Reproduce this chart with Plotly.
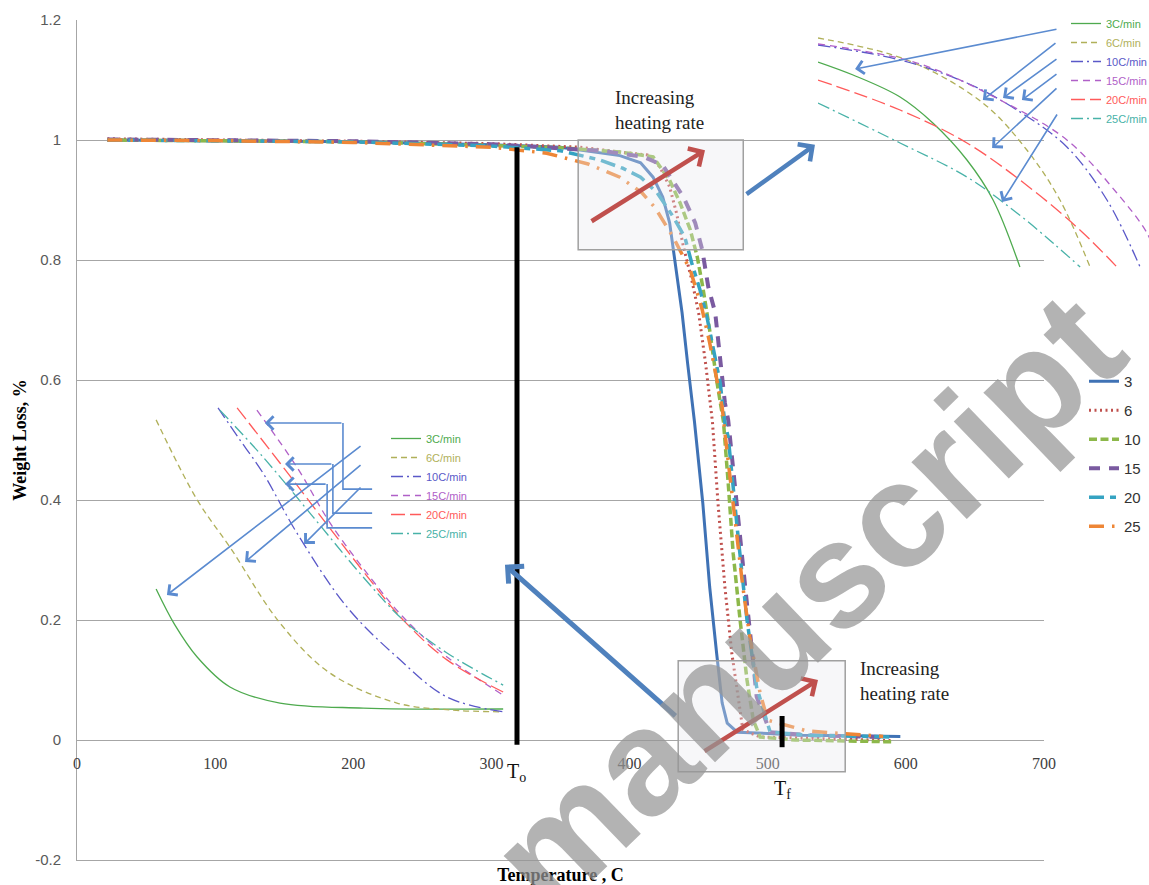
import plotly.graph_objects as go

# ---------------- main TGA curves (temperature C, weight fraction) ----------------
T_3 = [22, 100, 200, 300, 350, 393, 408, 417, 424, 429, 433, 438, 442, 447, 453, 458, 463, 467, 470.7, 478, 500, 523.5, 560, 596]
W_3 = [1.0, 0.999, 0.997, 0.992, 0.988, 0.974, 0.962, 0.938, 0.905, 0.862, 0.795, 0.712, 0.628, 0.53, 0.395, 0.255, 0.145, 0.062, 0.028, 0.013, 0.011, 0.008, 0.007, 0.006]

T_6 = [22, 100, 200, 300, 364, 393, 413, 422, 429, 434, 439, 445, 450, 455, 460, 464, 469, 474, 479, 482, 494.5, 520, 560, 590]
W_6 = [1.002, 1.0, 0.998, 0.994, 0.988, 0.98, 0.975, 0.955, 0.922, 0.878, 0.822, 0.767, 0.712, 0.628, 0.53, 0.395, 0.255, 0.145, 0.062, 0.017, 0.005, 0.003, 0.001, -0.001]

T_10 = [22, 100, 200, 300, 350, 393, 417, 429, 436.6, 444, 449, 453, 458, 463, 468, 471.6, 475, 480, 485, 489.6, 494.5, 520, 560, 590]
W_10 = [1.0, 0.999, 0.997, 0.991, 0.987, 0.98, 0.972, 0.933, 0.895, 0.85, 0.805, 0.755, 0.683, 0.6, 0.53, 0.422, 0.311, 0.2, 0.1, 0.033, 0.005, 0.0, -0.002, -0.003]

T_15 = [22, 100, 200, 300, 380, 410, 424, 439, 447.5, 452.6, 457, 462, 465.6, 469, 471.4, 478, 483.7, 488.8, 492, 501.8, 530, 585]
W_15 = [1.001, 1.0, 0.998, 0.993, 0.982, 0.972, 0.958, 0.905, 0.862, 0.817, 0.755, 0.712, 0.628, 0.562, 0.533, 0.378, 0.255, 0.145, 0.072, 0.013, 0.008, 0.005]

T_20 = [22, 100, 200, 300, 350, 378, 395, 408, 420, 431.6, 440, 445, 451, 456, 460.5, 465.6, 469, 471.4, 478.6, 485, 492, 499.6, 501.8, 530, 590]
W_20 = [1.0, 0.999, 0.997, 0.99, 0.982, 0.967, 0.953, 0.938, 0.912, 0.872, 0.838, 0.795, 0.75, 0.705, 0.655, 0.595, 0.528, 0.505, 0.338, 0.2, 0.088, 0.033, 0.013, 0.008, 0.005]

T_25 = [22, 100, 200, 300, 340, 370, 393, 409, 418.5, 424, 431.6, 439, 444, 449, 452.6, 458, 463, 467, 470.7, 476.5, 482, 487, 494.5, 500, 528.6, 583.6]
W_25 = [1.0, 0.999, 0.996, 0.988, 0.978, 0.96, 0.938, 0.912, 0.887, 0.867, 0.838, 0.805, 0.783, 0.745, 0.717, 0.662, 0.605, 0.555, 0.478, 0.367, 0.255, 0.172, 0.078, 0.033, 0.015, 0.006]

RATE_LABELS = ["3", "6", "10", "15", "20", "25"]

# axis ticks
Y_TICKS = [-0.2, 0, 0.2, 0.4, 0.6, 0.8, 1.0, 1.2]
Y_TICKTEXT = ["-0.2", "0", "0.2", "0.4", "0.6", "0.8", "1", "1.2"]
X_TICKS = [0, 100, 200, 300, 400, 500, 600, 700]

# ---------------- inset 1 (onset region, magnified; inset units 0-100) ----------------
I1_X_3 = [0, 10.6, 24.8, 34.7, 45, 52.9, 61]
I1_Y_3 = [83.2, 78, 69.2, 58.8, 44, 28, 1.2]
I1_X_6 = [0, 26.9, 49.8, 63.1, 73.1, 82.2]
I1_Y_6 = [92.8, 84, 66.8, 48, 28, 1.2]
I1_X_10 = [0, 24.8, 45, 60.1, 75.2, 87.3, 97.3]
I1_Y_10 = [90, 84, 74.8, 64, 49.2, 28, 1.2]
I1_X_15 = [0, 29.9, 55, 75.2, 90.3, 99.4, 102]
I1_Y_15 = [90.4, 82.8, 68, 52, 30.8, 14.8, 6]
I1_X_20 = [0, 24.8, 45, 64.9, 80.1, 90.3]
I1_Y_20 = [76, 64, 50.8, 32, 14.8, 1.2]
I1_X_25 = [0, 24.8, 45, 60.1, 71, 79.2]
I1_Y_25 = [66.8, 50.8, 37.2, 22.8, 10.8, 1.2]

# ---------------- inset 2 (end-of-decomposition region, magnified; inset units 0-100) ----------------
I2_X_3 = [1.7, 6.9, 13.1, 22.2, 36.1, 59.2, 98.1]
I2_Y_3 = [40, 28.6, 18.4, 8.9, 3.8, 2.2, 1.9]
I2_X_6 = [1.7, 13.1, 22.2, 36.1, 50, 68.6, 83.3, 98.1]
I2_Y_6 = [93.7, 68.3, 53.3, 29.2, 13.3, 3.8, 1.6, 1.0]
I2_X_10 = [18.9, 25, 31.4, 40.8, 54.7, 68.6, 82.5, 98.1]
I2_Y_10 = [97.5, 87.3, 76.8, 57.8, 34.3, 18.4, 5.7, 1.0]
I2_X_15 = [29.7, 40.8, 50, 61.1, 70.3, 82.5, 98.1]
I2_Y_15 = [96.8, 78.7, 61, 43.8, 31.1, 18.4, 6.3]
I2_X_20 = [24.2, 36.1, 48.5, 60, 70.3, 82.5, 98.1]
I2_Y_20 = [97.5, 80, 61.5, 44.5, 30.2, 17.5, 7.3]
I2_X_25 = [19.4, 31.4, 45.3, 59.2, 70.3, 82.5, 98.1]
I2_Y_25 = [96.8, 81.9, 62.9, 43.8, 30.2, 19.7, 9.5]

INSET_LABELS = ["3C/min", "6C/min", "10C/min", "15C/min", "20C/min", "25C/min"]

# ---------------- styling ----------------
MAIN_COLORS = ["#3F72B5", "#C0504D", "#8DB84A", "#7A5AA0", "#35A3C2", "#EE8636"]
MAIN_DASH = ["solid", "2px,3.5px", "8px,3.5px", "11px,9px", "15px,6px,6px,6px", "15px,8px,2.5px,8px"]
MAIN_WIDTH = [3, 3, 3.5, 4, 3.5, 3.5]
INS_COLORS = ["#4EAA4E", "#B0B05A", "#5A58C8", "#B060C8", "#FF5A5A", "#48B2A8"]
INS_DASH = ["solid", "6px,4px", "12px,4px,2px,4px", "7px,5px", "14px,5px", "12px,4px,2px,4px"]

W = 1149
H = 885
ML, MR, MT, MB = 77, 0, 20, 25
PW = W - ML - MR
PH = H - MT - MB


def px_x(p):
    return (p - ML) / PW


def px_y(p):
    return (H - MB - p) / PH


main_right = px_x(1044)

fig = go.Figure()

mainT = [T_3, T_6, T_10, T_15, T_20, T_25]
mainW = [W_3, W_6, W_10, W_15, W_20, W_25]
for i, lab in enumerate(RATE_LABELS):
    fig.add_trace(go.Scatter(
        x=mainT[i], y=mainW[i], mode="lines", name=lab,
        line=dict(color=MAIN_COLORS[i], dash=MAIN_DASH[i], width=MAIN_WIDTH[i]),
        xaxis="x", yaxis="y", legend="legend", legendgroup="m" + lab,
    ))

i1x = [I1_X_3, I1_X_6, I1_X_10, I1_X_15, I1_X_20, I1_X_25]
i1y = [I1_Y_3, I1_Y_6, I1_Y_10, I1_Y_15, I1_Y_20, I1_Y_25]
i2x = [I2_X_3, I2_X_6, I2_X_10, I2_X_15, I2_X_20, I2_X_25]
i2y = [I2_Y_3, I2_Y_6, I2_Y_10, I2_Y_15, I2_Y_20, I2_Y_25]
for i, lab in enumerate(INSET_LABELS):
    nm = "<span style='color:%s'>%s</span>" % (INS_COLORS[i], lab)
    fig.add_trace(go.Scatter(
        x=i1x[i], y=i1y[i], mode="lines", name=nm, line_shape="spline",
        line=dict(color=INS_COLORS[i], dash=INS_DASH[i], width=1.3),
        xaxis="x2", yaxis="y2", legend="legend2",
    ))
    fig.add_trace(go.Scatter(
        x=i2x[i], y=i2y[i], mode="lines", name=nm, line_shape="spline",
        line=dict(color=INS_COLORS[i], dash=INS_DASH[i], width=1.3),
        xaxis="x3", yaxis="y3", legend="legend3",
    ))

# empty trace to carry the tick-label axis that crosses at y = 0
fig.add_trace(go.Scatter(x=[], y=[], xaxis="x4", yaxis="y", showlegend=False, hoverinfo="skip"))

GRID = "#A6A6A6"
SERIF = "Liberation Serif"
SANS = "Liberation Sans"

annotations = []
shapes = []

# boxes
shapes.append(dict(type="rect", xref="x", yref="y", x0=362.8, x1=482.3, y0=0.817, y1=1.0,
                   line=dict(color="#A0A0A0", width=1.5), fillcolor="rgba(232,232,238,0.35)", layer="above"))
shapes.append(dict(type="rect", xref="x", yref="y", x0=435.2, x1=556.1, y0=-0.053, y1=0.132,
                   line=dict(color="#A0A0A0", width=1.5), fillcolor="rgba(232,232,238,0.35)", layer="above"))
# onset / end markers
shapes.append(dict(type="line", xref="x", yref="y", x0=318.5, x1=318.5, y0=0.988, y1=-0.008,
                   line=dict(color="black", width=5)))
shapes.append(dict(type="line", xref="x", yref="y", x0=510.4, x1=510.4, y0=0.04, y1=-0.012,
                   line=dict(color="black", width=5)))


def arrow(x0, y0, x1, y1, color, width, ref="", head=4, size=1.0):
    annotations.append(dict(
        x=x1, y=y1, ax=x0, ay=y0, xref="x" + ref, yref="y" + ref, axref="x" + ref, ayref="y" + ref,
        text="", showarrow=True, arrowhead=head, arrowsize=size, arrowwidth=width, arrowcolor=color,
        standoff=0, startstandoff=0,
    ))


# main arrows
arrow(371.4, 0.863, 454.6, 0.983, "#C0504D", 4.5, size=0.9)
arrow(483.6, 0.908, 534.2, 0.992, "#4F81BD", 4.5, size=0.9)
arrow(453.2, -0.02, 536.4, 0.10, "#C0504D", 4.5, size=0.9)
arrow(434.3, 0.038, 309.8, 0.292, "#4F81BD", 5, size=0.9)

# inset 1 arrows
INS_ARROW = "#5B8BD0"
for (sx, sy, ex, ey) in [(72.5, 96.4, 11.2, 80.4), (72.2, 91.2, 49.8, 68.0), (72.5, 84.8, 55.9, 68.8),
                         (72.5, 78.8, 61.6, 68.0), (72.5, 73.2, 52.6, 48.8), (72.5, 62.8, 55.6, 27.2)]:
    arrow(sx, sy, ex, ey, INS_ARROW, 1.6, ref="2", head=4, size=1.6)

# inset 2 arrows
for (sx, sy, ex, ey) in [(58.9, 85.7, 4.7, 38.1), (58.9, 79.7, 26.4, 48.6), (58.9, 72.7, 42.8, 54.3)]:
    arrow(sx, sy, ex, ey, INS_ARROW, 1.6, ref="3", head=4, size=1.6)
for (p, ex) in [([(61.7, 71.7), (53.6, 71.7), (53.6, 92.7)], 31.9),
                ([(61.7, 64.1), (50.8, 64.1), (50.8, 79.7)], 37.5),
                ([(61.7, 59.4), (49.2, 59.4), (49.2, 73.3)], 37.5)]:
    path = "M %s,%s L %s,%s L %s,%s" % (p[0][0], p[0][1], p[1][0], p[1][1], p[2][0], p[2][1])
    shapes.append(dict(type="path", xref="x3", yref="y3", path=path, line=dict(color=INS_ARROW, width=1.6)))
    arrow(p[2][0], p[2][1], ex, p[2][1], INS_ARROW, 1.6, ref="3", head=4, size=1.6)

# texts
annotations.append(dict(x=px_x(613), y=px_y(110), xref="paper", yref="paper", xanchor="left", yanchor="middle",
                        text="Increasing<br>heating rate", showarrow=False, align="left",
                        font=dict(family=SERIF, size=19, color="#222222")))
annotations.append(dict(x=px_x(858), y=px_y(681), xref="paper", yref="paper", xanchor="left", yanchor="middle",
                        text="Increasing<br>heating rate", showarrow=False, align="left",
                        font=dict(family=SERIF, size=19, color="#222222")))
annotations.append(dict(x=318.5, y=px_y(772), xref="x", yref="paper", xanchor="center", yanchor="middle",
                        text="T<sub>o</sub>", showarrow=False, font=dict(family=SERIF, size=20, color="#111111")))
annotations.append(dict(x=510.4, y=px_y(789), xref="x", yref="paper", xanchor="center", yanchor="middle",
                        text="T<sub>f</sub>", showarrow=False, font=dict(family=SERIF, size=20, color="#111111")))
# watermark
annotations.append(dict(x=px_x(806), y=px_y(602), xref="paper", yref="paper", xanchor="center", yanchor="middle",
                        text="<b>manuscript</b>", showarrow=False, textangle=-44,
                        font=dict(family=SANS, size=150, color="rgba(150,150,150,0.72)")))

inset_axis = dict(visible=False, range=[0, 100], fixedrange=True)

fig.update_layout(
    width=W, height=H,
    margin=dict(l=ML, r=MR, t=MT, b=MB, autoexpand=False),
    paper_bgcolor="white", plot_bgcolor="rgba(0,0,0,0)",
    xaxis=dict(domain=[0, main_right], range=[0, 700], showgrid=False, zeroline=False,
               showticklabels=False, ticks="", showline=True, linecolor=GRID, linewidth=1,
               title=dict(text="<b>Temperature , C</b>", standoff=10,
                          font=dict(family=SERIF, size=18, color="black")),
               automargin=False),
    xaxis4=dict(overlaying="x", matches="x", anchor="free", position=px_y(740), domain=[0, main_right],
                range=[0, 700], tickmode="array", tickvals=X_TICKS, showgrid=False, zeroline=False,
                showline=False, ticks="", ticklabelstandoff=12,
                tickfont=dict(family=SERIF, size=16, color="#404040"), automargin=False),
    yaxis=dict(domain=[0, 1], range=[-0.2, 1.2], tickmode="array", tickvals=Y_TICKS, ticktext=Y_TICKTEXT,
               showgrid=True, gridcolor=GRID,
               gridwidth=1, zeroline=False, showline=True, linecolor=GRID, linewidth=1, ticks="",
               ticklabelstandoff=12, tickfont=dict(family=SANS, size=15, color="#595959"),
               title=dict(text="<b>Weight Loss, %</b>", standoff=3,
                          font=dict(family=SERIF, size=18, color="black")),
               automargin=False),
    xaxis2=dict(domain=[px_x(818), 1.0], anchor="y2", **inset_axis),
    yaxis2=dict(domain=[px_y(270), px_y(20)], anchor="x2", **inset_axis),
    xaxis3=dict(domain=[px_x(150), px_x(510)], anchor="y3", **inset_axis),
    yaxis3=dict(domain=[px_y(715), px_y(400)], anchor="x3", **inset_axis),
    legend=dict(x=px_x(1084), y=px_y(365), xanchor="left", yanchor="top", bgcolor="rgba(0,0,0,0)",
                font=dict(family=SANS, size=15, color="#333333"), tracegroupgap=6.5, traceorder="grouped",
                itemwidth=30),
    legend2=dict(x=px_x(1066), y=px_y(9), xanchor="left", yanchor="top", bgcolor="rgba(0,0,0,0)",
                 font=dict(family=SANS, size=11), tracegroupgap=0),
    legend3=dict(x=px_x(386), y=px_y(424), xanchor="left", yanchor="top", bgcolor="rgba(0,0,0,0)",
                 font=dict(family=SANS, size=11), tracegroupgap=0),
    shapes=shapes,
    annotations=annotations,
    showlegend=True,
)

fig.write_html("out.html")
